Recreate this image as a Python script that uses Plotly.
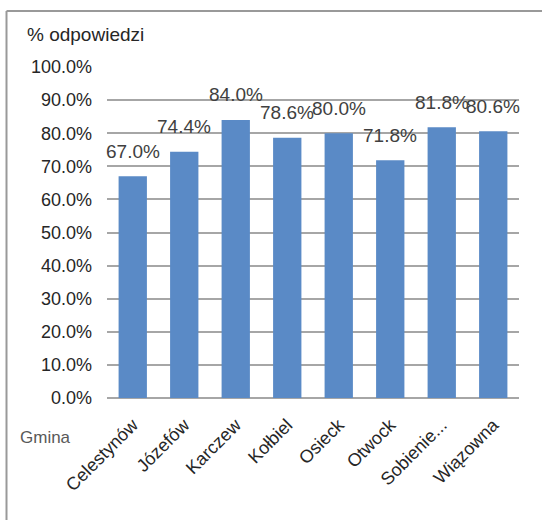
import plotly.graph_objects as go

categories = ["Celestynów", "Józefów", "Karczew", "Kołbiel", "Osieck", "Otwock", "Sobienie...", "Wiązowna"]
values = [67.0, 74.4, 84.0, 78.6, 80.0, 71.8, 81.8, 80.6]
y_ticks = [0, 10, 20, 30, 40, 50, 60, 70, 80, 90, 100]
y_tick_labels = [f"{t:.1f}%" for t in y_ticks]

FONT = "Liberation Sans, Arial, sans-serif"
TXT = "#404040"

W, H = 542, 520
L, R, T, B = 107, 23, 67, 122
pw, ph = W - L - R, H - T - B

def px(x):
    return (x - L) / pw

def py(y):
    return (H - B - y) / ph

fig = go.Figure()
fig.add_trace(go.Bar(
    x=categories, y=values,
    marker=dict(color="#5A8AC6", line=dict(width=0)),
    width=0.55,
    hoverinfo="skip",
))

annotations = []
for c, v in zip(categories, values):
    annotations.append(dict(
        x=c, y=v, xref="x", yref="y", text=f"{v:.1f}%",
        showarrow=False, yanchor="middle", yshift=25,
        font=dict(family=FONT, size=19, color=TXT),
    ))
annotations.append(dict(
    x=px(27), y=py(35), xref="paper", yref="paper", text="% odpowiedzi",
    showarrow=False, xanchor="left", yanchor="middle", xshift=-2,
    font=dict(family=FONT, size=19, color="#262626"),
))
annotations.append(dict(
    x=px(20), y=py(437), xref="paper", yref="paper", text="Gmina",
    showarrow=False, xanchor="left", yanchor="middle", xshift=-2,
    font=dict(family=FONT, size=17, color="#595959"),
))

shapes = [
    dict(type="line", xref="paper", yref="paper", x0=px(6.5), x1=px(545), y0=py(11), y1=py(11),
         line=dict(color="#999999", width=2)),
    dict(type="line", xref="paper", yref="paper", x0=px(6.5), x1=px(6.5), y0=py(11), y1=py(525),
         line=dict(color="#999999", width=2)),
]

fig.update_layout(
    width=W, height=H,
    margin=dict(l=L, r=R, t=T, b=B, autoexpand=False),
    paper_bgcolor="white", plot_bgcolor="white",
    showlegend=False,
    annotations=annotations,
    shapes=shapes,
    font=dict(family=FONT, size=18, color=TXT),
    xaxis=dict(
        tickangle=-45, tickfont=dict(family=FONT, size=18, color="#262626"),
        showline=False, showgrid=False, ticks="", ticklabelstandoff=12,
        range=[-0.5, len(categories) - 0.5],
    ),
    yaxis=dict(
        range=[0, 100], tickvals=y_ticks, ticktext=y_tick_labels,
        tickfont=dict(family=FONT, size=18, color="#262626"),
        showgrid=True, gridcolor="#A6A6A6", gridwidth=1.5,
        zeroline=True, zerolinecolor="#A6A6A6", zerolinewidth=1.5,
        showline=False, ticks="", ticklabelstandoff=14,
    ),
)

fig.write_html("out.html", config={"displayModeBar": False},
               post_script="document.body.style.margin='0';document.body.style.padding='0';")
